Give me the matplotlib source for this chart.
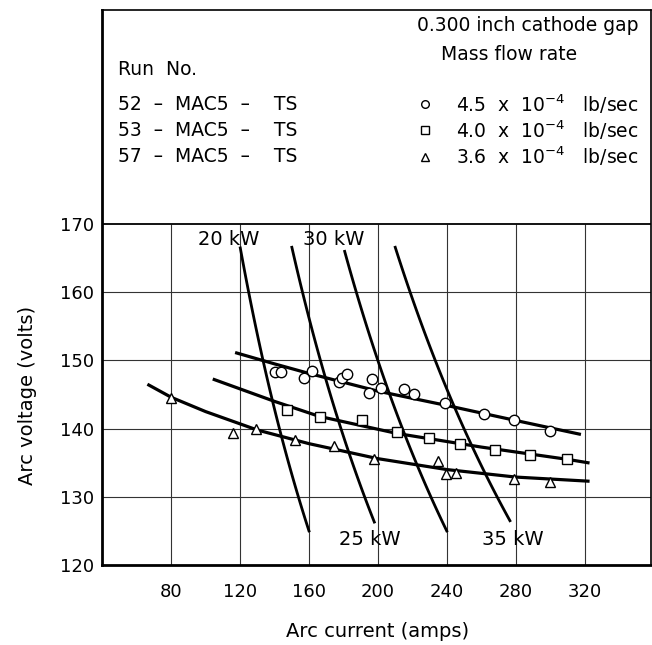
import numpy as np
import matplotlib
matplotlib.use("Agg")
import matplotlib.pyplot as plt

plt.rcParams['font.family'] = ['DejaVu Sans']
plt.rcParams['mathtext.default'] = 'regular'

# measured points, arc current (amps) vs arc voltage (volts)
circle_amps = [140.4, 143.9, 156.9, 161.9, 177.2, 179.1, 182.0, 196.7, 195.0,
               201.6, 214.9, 220.9, 239.1, 261.5, 279.0, 300.1]
circle_volts = [148.3, 148.3, 147.5, 148.5, 146.8, 147.4, 148.0, 147.3, 145.3,
                146.0, 145.8, 145.1, 143.8, 142.2, 141.2, 139.6]

square_amps = [147.2, 166.2, 190.7, 210.9, 229.4, 247.4, 267.9, 288.1, 310.0]
square_volts = [142.7, 141.7, 141.3, 139.5, 138.7, 137.8, 136.8, 136.2, 135.5]

triangle_amps = [79.7, 116.0, 129.4, 151.8, 174.5, 197.5, 234.7, 239.7, 245.1,
                 279.0, 299.7]
triangle_volts = [144.5, 139.3, 139.9, 138.4, 137.4, 135.5, 135.3, 133.3, 133.5,
                  132.6, 132.2]

# faired curves through each run
circle_fit_amps = [118, 140, 160, 200, 240, 280, 317]
circle_fit_volts = [151.1, 149.5, 148.1, 145.5, 143.4, 141.2, 139.2]
square_fit_amps = [105, 140, 166, 211, 260, 310, 322]
square_fit_volts = [147.2, 144.0, 141.8, 139.3, 137.3, 135.5, 135.0]
triangle_fit_amps = [67, 80, 100, 130, 160, 200, 240, 280, 322]
triangle_fit_volts = [146.4, 144.6, 142.5, 139.8, 137.8, 135.6, 134.0, 132.9, 132.3]

# constant power lines V = P / I
power_kw = [20, 25, 30, 35]
power_v_top = [166.5, 166.6, 166.0, 166.6]
power_v_bottom = [125.0, 126.3, 125.0, 126.5]
power_label_x = [113.6, 195.4, 174.5, 278.5]
power_label_y = [167.8, 123.7, 167.8, 123.7]

x_ticks = [80, 120, 160, 200, 240, 280, 320]
y_ticks = [120, 130, 140, 150, 160, 170]

run_labels = ["52  \u2013  MAC5  \u2013    TS", "53  \u2013  MAC5  \u2013    TS",
              "57  \u2013  MAC5  \u2013    TS"]
flow_labels = ["4.5  x  10$^{-4}$   lb/sec", "4.0  x  10$^{-4}$   lb/sec",
               "3.6  x  10$^{-4}$   lb/sec"]

fig = plt.figure(figsize=(6.52, 6.45), dpi=100)
ax = fig.add_axes([0.1569, 0.124, 0.8416, 0.8605])
xmax, ymax = 358.6, 201.4
ax.set_xlim(40, xmax)
ax.set_ylim(120, ymax)

# grid only below the 170 V line, legend box above it
ax.vlines(x_ticks, 120, 170, color='0.2', lw=0.8, zorder=1)
ax.hlines(y_ticks[1:-1], 40, xmax, color='0.2', lw=0.8, zorder=1)
ax.hlines(170, 40, xmax, color='black', lw=1.3, zorder=1)

for sp in ['left', 'bottom']:
    ax.spines[sp].set_linewidth(2.0)
for sp in ['top', 'right']:
    ax.spines[sp].set_linewidth(1.2)

for kw, vt, vb in zip(power_kw, power_v_top, power_v_bottom):
    volts = np.linspace(vb, vt, 60)
    ax.plot(kw * 1000 / volts, volts, color='black', lw=2.0, zorder=2)
for label, lx, ly in zip(power_kw, power_label_x, power_label_y):
    ax.text(lx, ly, f"{label} kW", ha='center', va='center', fontsize=14)

ax.plot(circle_fit_amps, circle_fit_volts, color='black', lw=2.3, zorder=2)
ax.plot(square_fit_amps, square_fit_volts, color='black', lw=2.3, zorder=2)
ax.plot(triangle_fit_amps, triangle_fit_volts, color='black', lw=2.3, zorder=2)

mk = dict(linestyle='none', mfc='white', mec='black', mew=1.0, zorder=3)
ax.plot(circle_amps, circle_volts, marker='o', ms=7.5, **mk)
ax.plot(square_amps, square_volts, marker='s', ms=6.5, **mk)
ax.plot(triangle_amps, triangle_volts, marker='^', ms=7, **mk)

# legend block
tr = ax.transAxes
ax.text(0.977, 0.972, "0.300 inch cathode gap", transform=tr, ha='right',
        va='center', fontsize=13.5)
ax.text(0.742, 0.92, "Mass flow rate", transform=tr, ha='center',
        va='center', fontsize=13.5)
ax.text(0.028, 0.893, "Run  No.", transform=tr, ha='left', va='center',
        fontsize=13.5)
row_y = [0.83, 0.783, 0.736]
row_markers = ['o', 's', '^']
for y, run, flow, m in zip(row_y, run_labels, flow_labels, row_markers):
    ax.text(0.028, y, run, transform=tr, ha='left', va='center', fontsize=13.5)
    ax.plot([0.588], [y], marker=m, ms=5.5, transform=tr, clip_on=False, **mk)
    ax.text(0.977, y, flow, transform=tr, ha='right', va='center', fontsize=13.5)

ax.set_xticks(x_ticks)
ax.set_yticks(y_ticks)
ax.tick_params(axis='both', length=0, labelsize=13)
ax.tick_params(axis='x', pad=13)
ax.tick_params(axis='y', pad=6)

ax.set_xlabel("Arc current (amps)", fontsize=14)
ax.set_ylabel("Arc voltage (volts)", fontsize=14)
ax.xaxis.set_label_coords(0.5025, -0.103)
ax.yaxis.set_label_coords(-0.119, 0.306)

fig.savefig("out.png", dpi=100)
